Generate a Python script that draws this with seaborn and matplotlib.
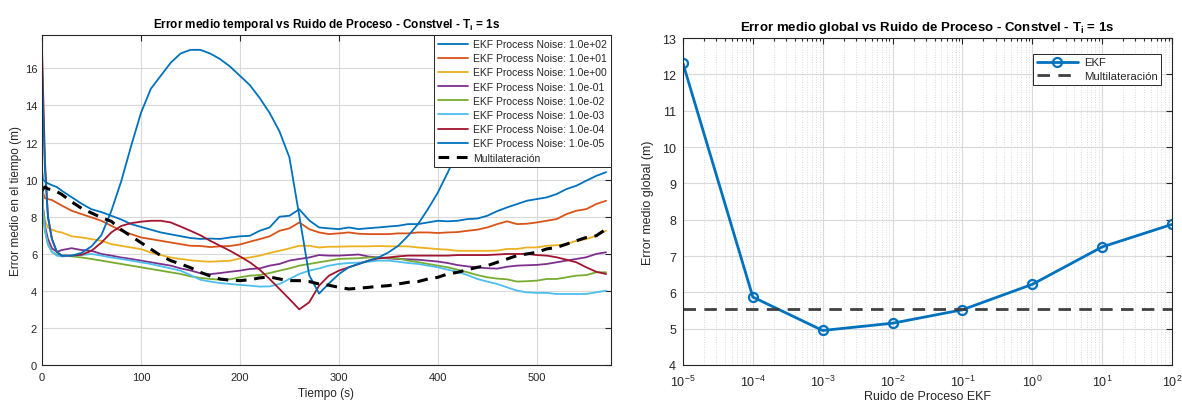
import numpy as np
import pandas as pd
import matplotlib
matplotlib.use("Agg")
import matplotlib.pyplot as plt
import seaborn as sns
from matplotlib.ticker import LogLocator, NullFormatter, FixedLocator

# ---------------- data ----------------
t = [0, 1, 3, 6, 10, 15, 20, 30, 40, 50, 60, 70, 80, 90, 100, 110, 120, 130, 140, 150,
     160, 170, 180, 190, 200, 210, 220, 230, 240, 250, 260, 270, 280, 290, 300, 310, 320,
     330, 340, 350, 360, 370, 380, 390, 400, 410, 420, 430, 440, 450, 460, 470, 480, 490,
     500, 510, 520, 530, 540, 550, 560, 570]

e_1e2 = [10.5, 10.0, 9.9, 9.8, 9.7, 9.6, 9.4, 9.05, 8.7, 8.4, 8.25, 8.05, 7.85, 7.6, 7.45,
         7.3, 7.15, 7.05, 6.95, 6.85, 6.8, 6.82, 6.8, 6.88, 6.94, 6.97, 7.24, 7.42, 8.0,
         8.05, 8.4, 7.8, 7.42, 7.37, 7.33, 7.42, 7.33, 7.38, 7.42, 7.47, 7.51, 7.6, 7.6,
         7.69, 7.78, 7.75, 7.78, 7.87, 7.9, 8.05, 8.3, 8.5, 8.68, 8.86, 8.95, 9.04, 9.22,
         9.49, 9.67, 9.94, 10.2, 10.4]
e_1e1 = [9.5, 9.3, 9.0, 8.95, 8.9, 8.75, 8.6, 8.32, 8.14, 7.96, 7.78, 7.51, 7.24, 7.06,
         6.88, 6.79, 6.7, 6.61, 6.52, 6.43, 6.42, 6.36, 6.4, 6.42, 6.5, 6.65, 6.79, 6.94,
         7.24, 7.37, 7.69, 7.33, 7.15, 7.06, 7.1, 7.15, 7.08, 7.06, 7.06, 7.06, 7.1, 7.1,
         7.15, 7.15, 7.12, 7.15, 7.17, 7.24, 7.3, 7.42, 7.6, 7.75, 7.6, 7.62, 7.69, 7.78,
         7.87, 8.14, 8.32, 8.41, 8.68, 8.86]
e_1e0 = [9.5, 8.5, 7.8, 7.4, 7.3, 7.2, 7.15, 6.94, 6.88, 6.79, 6.7, 6.52, 6.43, 6.34,
         6.25, 6.07, 5.93, 5.8, 5.72, 5.65, 5.6, 5.57, 5.6, 5.62, 5.75, 5.8, 5.9, 6.04,
         6.16, 6.29, 6.43, 6.43, 6.34, 6.38, 6.38, 6.4, 6.4, 6.4, 6.42, 6.4, 6.4, 6.4,
         6.34, 6.3, 6.25, 6.22, 6.16, 6.16, 6.16, 6.16, 6.17, 6.26, 6.26, 6.34, 6.34,
         6.43, 6.46, 6.52, 6.7, 6.79, 6.97, 7.24]
e_1em1 = [10.0, 8.5, 7.5, 6.8, 6.3, 6.1, 6.2, 6.3, 6.2, 6.16, 5.99, 5.9, 5.8, 5.72, 5.63,
          5.54, 5.45, 5.36, 5.21, 5.1, 4.95, 4.9, 4.96, 5.03, 5.09, 5.18, 5.21, 5.36, 5.45,
          5.63, 5.72, 5.8, 5.93, 5.9, 5.9, 5.93, 5.96, 5.85, 5.8, 5.75, 5.72, 5.7, 5.68,
          5.63, 5.58, 5.5, 5.39, 5.32, 5.27, 5.22, 5.2, 5.3, 5.36, 5.38, 5.4, 5.45, 5.54,
          5.63, 5.72, 5.81, 5.99, 6.08]
e_1em2 = [10.0, 8.3, 7.2, 6.5, 6.1, 5.95, 5.9, 5.86, 5.8, 5.72, 5.63, 5.54, 5.45, 5.36,
          5.27, 5.18, 5.09, 5.0, 4.91, 4.78, 4.7, 4.64, 4.6, 4.62, 4.73, 4.82, 4.85, 4.96,
          5.09, 5.21, 5.36, 5.45, 5.54, 5.63, 5.72, 5.74, 5.76, 5.8, 5.8, 5.78, 5.75, 5.63,
          5.55, 5.45, 5.36, 5.27, 5.14, 5.0, 4.85, 4.73, 4.66, 4.62, 4.5, 4.52, 4.55, 4.64,
          4.64, 4.73, 4.82, 4.85, 5.0, 5.0]
e_1em3 = [10.5, 8.5, 7.3, 6.5, 6.1, 5.9, 5.85, 5.9, 5.93, 5.99, 5.9, 5.8, 5.72, 5.63, 5.54,
          5.45, 5.33, 5.21, 5.09, 4.85, 4.6, 4.5, 4.42, 4.37, 4.32, 4.28, 4.23, 4.24, 4.37,
          4.64, 4.91, 5.09, 5.21, 5.36, 5.45, 5.5, 5.52, 5.57, 5.63, 5.63, 5.57, 5.5, 5.45,
          5.36, 5.27, 5.14, 5.03, 4.85, 4.64, 4.5, 4.37, 4.19, 4.01, 3.92, 3.89, 3.89, 3.83,
          3.83, 3.83, 3.83, 3.92, 4.01]
e_1em4 = [17.0, 15.0, 11.0, 8.0, 6.8, 6.1, 5.9, 5.9, 5.95, 6.16, 6.6, 7.15, 7.5, 7.65,
          7.73, 7.78, 7.78, 7.69, 7.47, 7.24, 7.0, 6.7, 6.43, 6.16, 5.86, 5.54, 5.14, 4.64,
          4.1, 3.56, 3.0, 3.38, 4.28, 4.82, 5.09, 5.27, 5.45, 5.63, 5.75, 5.8, 5.86, 5.9,
          5.9, 5.9, 5.9, 5.9, 5.93, 5.93, 5.93, 5.93, 5.96, 5.99, 5.99, 5.99, 5.93, 5.9,
          5.81, 5.68, 5.54, 5.27, 5.03, 4.91]
e_1em5 = [16.4, 14.0, 10.5, 8.0, 6.8, 6.1, 5.9, 5.9, 6.05, 6.4, 7.0, 8.3, 9.9, 11.8, 13.6,
          14.9, 15.6, 16.3, 16.8, 17.0, 17.0, 16.8, 16.5, 16.1, 15.6, 15.1, 14.4, 13.6, 12.6,
          11.2, 8.05, 4.85, 3.85, 4.4, 4.9, 5.27, 5.45, 5.63, 5.8, 6.07, 6.43, 6.97, 7.6,
          8.41, 9.3, 10.38, 11.5, 12.6, 13.8, 14.9, 15.9, 16.8, 17.7, 18.7, 19.7, 20.7,
          21.7, 22.7, 23.7, 24.7, 25.7, 26.7]
multilat_t = [9.4, 9.5, 9.6, 9.5, 9.45, 9.35, 9.2, 8.8, 8.45, 8.2, 7.95, 7.75, 7.3, 6.95,
              6.6, 6.25, 5.9, 5.63, 5.45, 5.25, 5.0, 4.8, 4.64, 4.57, 4.55, 4.6, 4.7, 4.75,
              4.64, 4.55, 4.55, 4.5, 4.37, 4.3, 4.19, 4.1, 4.14, 4.19, 4.24, 4.28, 4.37, 4.46,
              4.5, 4.64, 4.73, 4.91, 5.0, 5.14, 5.27, 5.36, 5.54, 5.72, 5.9, 5.99, 6.08, 6.26,
              6.34, 6.52, 6.7, 6.88, 6.97, 7.33]

series_labels = ["EKF Process Noise: 1.0e+02", "EKF Process Noise: 1.0e+01",
                 "EKF Process Noise: 1.0e+00", "EKF Process Noise: 1.0e-01",
                 "EKF Process Noise: 1.0e-02", "EKF Process Noise: 1.0e-03",
                 "EKF Process Noise: 1.0e-04", "EKF Process Noise: 1.0e-05"]
series_colors = ["#0072BD", "#D95319", "#EDB120", "#7E2F8E", "#77AC30", "#4DBEEE",
                 "#A2142F", "#0072BD"]

ruido = [1e-5, 1e-4, 1e-3, 1e-2, 1e-1, 1e0, 1e1, 1e2]
err_global = [12.3, 5.87, 4.95, 5.15, 5.52, 6.22, 7.25, 7.87]
multilat_global = 5.55

# ---------------- style ----------------
sns.set_theme(style="white")
plt.rcParams['font.family'] = ['Liberation Sans', 'DejaVu Sans']
plt.rcParams['mathtext.fontset'] = 'custom'
plt.rcParams['mathtext.rm'] = 'Liberation Sans'
plt.rcParams['mathtext.bf'] = 'Liberation Sans:bold'
plt.rcParams['mathtext.it'] = 'Liberation Sans:italic'
TXT = '#262626'

fig = plt.figure(figsize=(11.82, 4.06), dpi=100)
ax1 = fig.add_axes([42/1182, 1-366/406, (611-42)/1182, (366-36)/406])
ax2 = fig.add_axes([683/1182, 1-366/406, (1172-683)/1182, (366-39)/406])

# ---------------- left panel ----------------
all_series = [e_1e2, e_1e1, e_1e0, e_1em1, e_1em2, e_1em3, e_1em4, e_1em5]
frames = []
for lab, vals in zip(series_labels, all_series):
    frames.append(pd.DataFrame({"t": t, "err": vals, "serie": lab}))
df = pd.concat(frames, ignore_index=True)

sns.lineplot(data=df, x="t", y="err", hue="serie", hue_order=series_labels,
             palette=series_colors, estimator=None, sort=False, linewidth=1.3, ax=ax1)
sns.lineplot(x=t, y=multilat_t, color="black", linewidth=2.2, ax=ax1,
             label="Multilateración", estimator=None, sort=False)
ax1.lines[-1].set_dashes([3.5, 2.5])

ax1.set_xlim(0, 575)
ax1.set_ylim(0, 17.8)
ax1.set_xticks([0, 100, 200, 300, 400, 500])
ax1.set_yticks(np.arange(0, 17, 2))
ax1.grid(True, color='#d9d9d9', linewidth=0.8)
ax1.set_xlabel("Tiempo (s)", fontsize=8.5, color=TXT, labelpad=4)
ax1.set_ylabel("Error medio en el tiempo (m)", fontsize=8.5, color=TXT, labelpad=2)
ax1.set_title("Error medio temporal vs Ruido de Proceso - Constvel - T$_\\mathbf{i}$ = 1s",
              fontsize=8.5, fontweight='bold', color='black', pad=6)
leg1 = ax1.legend(loc="upper right", fontsize=7.5, handlelength=2.9, frameon=True,
                  fancybox=False, framealpha=1, edgecolor='#262626',
                  borderpad=0.4, labelspacing=0.4, handletextpad=0.45,
                  borderaxespad=0.0)
leg1.get_frame().set_linewidth(0.7)

# ---------------- right panel ----------------
ax2.set_xscale('log')
sns.lineplot(x=ruido, y=err_global, color="#0072BD", linewidth=2, marker='o',
             markersize=6.5, markerfacecolor='none', markeredgecolor='#0072BD',
             markeredgewidth=1.6, label="EKF", ax=ax2, estimator=None, sort=False)
ax2.axhline(multilat_global, color='#404040', linewidth=2, dashes=[4.5, 3],
            label="Multilateración")
ax2.set_xlim(1e-5, 1e2)
ax2.set_ylim(4, 13)
ax2.set_yticks(np.arange(4, 14, 1))
ax2.xaxis.set_major_locator(FixedLocator(ruido))
ax2.xaxis.set_minor_locator(LogLocator(base=10, subs=np.arange(2, 10), numticks=50))
ax2.xaxis.set_minor_formatter(NullFormatter())
ax2.grid(True, which='major', color='#d9d9d9', linewidth=0.8)
ax2.grid(True, which='minor', axis='x', color='#d0d0d0', linewidth=0.6, linestyle=(0, (1, 2)))
ax2.set_xlabel("Ruido de Proceso EKF", fontsize=9, color=TXT, labelpad=1)
ax2.set_ylabel("Error medio global (m)", fontsize=9, color=TXT, labelpad=6)
ax2.set_title("Error medio global vs Ruido de Proceso - Constvel - T$_\\mathbf{i}$ = 1s",
              fontsize=9.5, fontweight='bold', color='black', pad=6)
leg2 = ax2.legend(loc="upper right", fontsize=8.2, handlelength=3.6, frameon=True,
                  fancybox=False, framealpha=1, edgecolor='#262626',
                  borderpad=0.35, labelspacing=0.35, handletextpad=0.5,
                  bbox_to_anchor=(0.99, 0.97))
leg2.get_frame().set_linewidth(0.7)

for ax, fs in ((ax1, 8), (ax2, 9)):
    for sp in ax.spines.values():
        sp.set_visible(True)
        sp.set_color('#262626')
        sp.set_linewidth(0.8)
    ax.tick_params(which='both', direction='in', top=True, right=True,
                   labelsize=fs, colors=TXT, length=4, width=0.8)
    ax.tick_params(which='minor', length=2)
    ax.set_axisbelow(True)
ax2.tick_params(axis='x', which='major', pad=6)
ax2.tick_params(axis='y', which='major', pad=5)
ax1.tick_params(axis='x', which='major', pad=5)

fig.savefig("out.png", dpi=100)
